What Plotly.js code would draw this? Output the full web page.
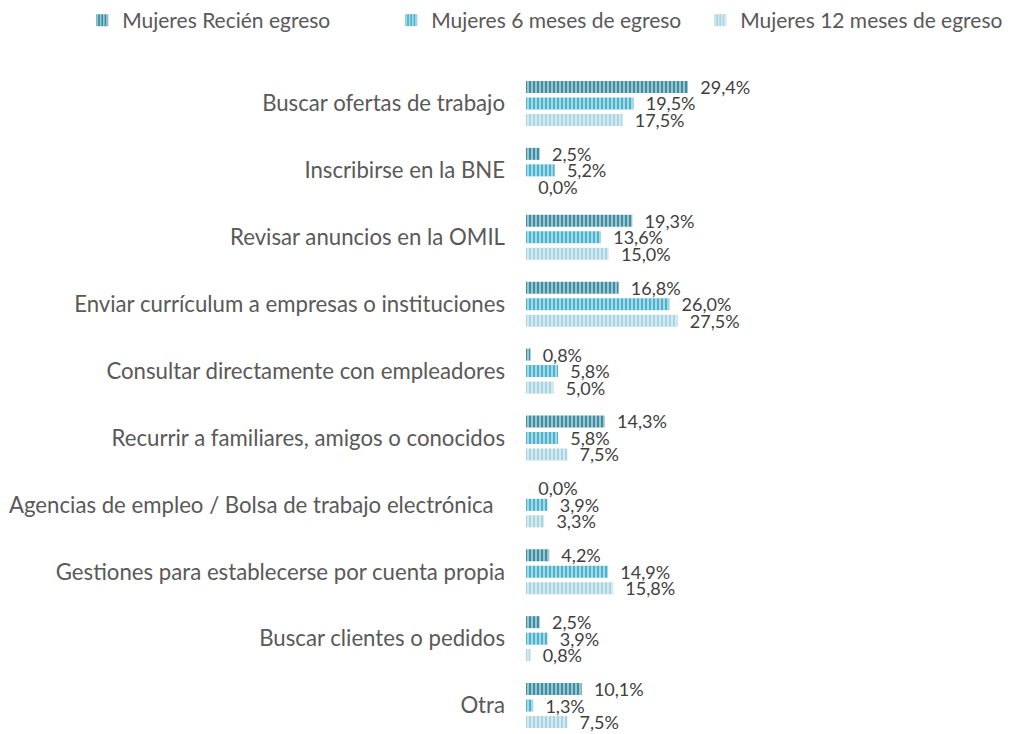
<!DOCTYPE html>
<html><head><meta charset="utf-8">
<script src="https://cdn.plot.ly/plotly-3.0.1.min.js"></script>
<style>html,body{margin:0;padding:0;background:#fff}</style>
</head><body>
<div id="chart" style="width:1015px;height:734px"></div>
<script>
const categories = [
  "Buscar ofertas de trabajo",
  "Inscribirse en la BNE",
  "Revisar anuncios en la OMIL",
  "Enviar currículum a empresas o instituciones",
  "Consultar directamente con empleadores",
  "Recurrir a familiares, amigos o conocidos",
  "Agencias de empleo / Bolsa de trabajo electrónica\u00a0\u00a0",
  "Gestiones para establecerse por cuenta propia",
  "Buscar clientes o pedidos",
  "Otra"
];
const seriesNames = ["Mujeres Recién egreso", "Mujeres 6 meses de egreso", "Mujeres 12 meses de egreso"];
const recienEgreso = [29.4, 2.5, 19.3, 16.8, 0.8, 14.3, 0.0, 4.2, 2.5, 10.1];
const seisMeses   = [19.5, 5.2, 13.6, 26.0, 5.8, 5.8, 3.9, 14.9, 3.9, 1.3];
const doceMeses   = [17.5, 0.0, 15.0, 27.5, 5.0, 7.5, 3.3, 15.8, 0.8, 7.5];
const colors = ["#3d8ea3", "#4cb3cc", "#a9d4e1"];
const values = [recienEgreso, seisMeses, doceMeses];
const FONT = "Lato, 'Open Sans', sans-serif";

const traces = values.map((v, i) => ({
  type: "bar",
  orientation: "h",
  name: seriesNames[i],
  y: categories,
  x: v,
  texttemplate: "\u00a0\u00a0%{x:.1f}%",
  textposition: "outside",
  constraintext: "none",
  cliponaxis: false,
  textfont: {family: FONT, size: 18, color: "#404040"},
  marker: {
    color: colors[i],
    line: {width: 0},
    pattern: {shape: "|", fgcolor: "#ffffff", bgcolor: colors[i], size: 4, solidity: 0.25, fillmode: "replace"}
  }
}));

const layout = {
  width: 1015, height: 734,
  margin: {l: 0, r: 0, t: 70, b: 0},
  separators: ",.",
  barmode: "group",
  bargap: 0.26,
  bargroupgap: 0.27,
  paper_bgcolor: "#ffffff",
  plot_bgcolor: "#ffffff",
  font: {family: FONT, color: "#595959", size: 19},
  showlegend: true,
  legend: {
    orientation: "h", xref: "container", yref: "container",
    x: 0.081, xanchor: "left", y: 1, yanchor: "top",
    font: {family: FONT, size: 21, color: "#595959"}, traceorder: "normal",
    itemwidth: 30, entrywidth: 264, entrywidthmode: "pixels"
  },
  xaxis: {domain: [526/1015, 1], range: [0, 88.7], showgrid: false, zeroline: false, showticklabels: false, showline: false, ticks: ""},
  yaxis: {
    type: "category", range: [9.425, -0.5], showgrid: false, zeroline: false, showline: false,
    ticks: "", ticklabelstandoff: 20, automargin: false,
    tickfont: {family: FONT, size: 22.2, color: "#595959"}
  }
};
Plotly.newPlot("chart", traces, layout, {displayModeBar: false, staticPlot: true});
</script>
</body></html>
